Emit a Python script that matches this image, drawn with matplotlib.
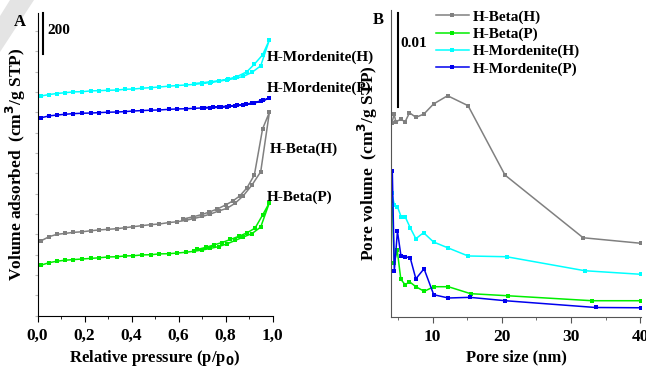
import matplotlib
matplotlib.use("Agg")
import matplotlib.pyplot as plt
from matplotlib.patches import Polygon
from matplotlib.ticker import MultipleLocator, FuncFormatter

plt.rcParams['font.family'] = ['Liberation Serif', 'DejaVu Serif']
plt.rcParams['font.weight'] = 'bold'

# ---- panel A: N2 isotherms (cm3/g STP, stacked) ----
p_ads = [0.016, 0.05, 0.082, 0.118, 0.153, 0.191, 0.228, 0.263, 0.30, 0.337,
         0.373, 0.408, 0.445, 0.482, 0.518, 0.557, 0.592, 0.63, 0.665, 0.70,
         0.735, 0.77, 0.805, 0.84, 0.875, 0.912, 0.949, 0.986]

beta_h_ads = [369, 389, 400, 405, 410, 413, 418, 422, 425, 428, 433, 438, 443, 448,
              451, 458, 462, 469, 478, 488, 500, 515, 528, 553, 590, 643, 708, 1001]
beta_p_ads = [249, 261, 268, 273, 276, 279, 282, 285, 289, 290, 294, 295, 299, 300,
              304, 305, 308, 312, 317, 323, 331, 340, 353, 370, 387, 404, 436, 556]
mord_h_ads = [1081, 1088, 1093, 1097, 1101, 1102, 1106, 1107, 1109, 1110, 1114, 1115,
              1119, 1122, 1125, 1129, 1132, 1135, 1138, 1142, 1147, 1153, 1160, 1167,
              1177, 1197, 1229, 1357]
mord_p_ads = [974, 983, 987, 991, 994, 996, 997, 999, 1001, 1002, 1004, 1007, 1009,
              1011, 1012, 1015, 1017, 1018, 1020, 1022, 1023, 1025, 1028, 1032, 1037,
              1044, 1054, 1070]

beta_h_pdes = [0.957, 0.922, 0.89, 0.86, 0.83, 0.80, 0.765, 0.73, 0.70, 0.66, 0.62]
beta_h_des = [919, 692, 628, 589, 564, 545, 525, 510, 498, 486, 476]
beta_p_pdes = [0.957, 0.925, 0.89, 0.855, 0.82, 0.785, 0.75, 0.715, 0.68]
beta_p_des = [495, 431, 407, 390, 375, 360, 348, 336, 326]
mord_h_pdes = [0.957, 0.922, 0.89, 0.848, 0.808, 0.773, 0.737, 0.70, 0.665]
mord_h_des = [1283, 1237, 1200, 1176, 1163, 1156, 1151, 1146, 1142]
mord_p_pdes = [0.957, 0.92, 0.885, 0.85, 0.815, 0.78, 0.745, 0.71]
mord_p_des = [1059, 1048, 1040, 1035, 1032, 1028, 1026, 1024]

# ---- panel B: pore size distributions (cm3/g STP) ----
bh_size = [4.12, 4.45, 4.70, 5.42, 6.04, 6.67, 7.60, 8.75, 10.14, 12.17, 15.13, 20.46, 31.74, 40.1]
bh_vol = [0.02057, 0.02156, 0.02074, 0.02100, 0.02074, 0.02170, 0.02121, 0.02156,
          0.02263, 0.02351, 0.02245, 0.01507, 0.00840, 0.00781]
bp_size = [4.20, 4.45, 4.90, 5.42, 6.04, 6.67, 7.59, 8.80, 10.17, 12.28, 15.49, 20.83, 33.04, 40.1]
bp_vol = [0.01234, 0.00574, 0.00705, 0.00398, 0.00340, 0.00372, 0.00319, 0.00270,
          0.00319, 0.00319, 0.00245, 0.00223, 0.00170, 0.00170]
mh_size = [4.12, 4.49, 4.93, 5.46, 6.04, 6.77, 7.59, 8.70, 10.14, 12.17, 15.13, 20.68, 31.99, 40.1]
mh_vol = [0.01313, 0.01188, 0.01170, 0.01064, 0.01064, 0.00947, 0.00830, 0.00894,
          0.00795, 0.00734, 0.00646, 0.00638, 0.00489, 0.00451]
mp_size = [4.19, 4.48, 4.93, 5.43, 6.07, 6.77, 7.59, 8.77, 10.17, 12.28, 15.39, 20.51, 33.54, 40.1]
mp_vol = [0.01550, 0.00489, 0.00910, 0.00651, 0.00637, 0.00628, 0.00403, 0.00510,
          0.00234, 0.00199, 0.00206, 0.00170, 0.00098, 0.00095]

names = ['H-Beta(H)', 'H-Beta(P)', 'H-Mordenite(H)', 'H-Mordenite(P)']
colors = ['#808080', '#00ee00', '#00ffff', '#0000ee']

W, H = 646, 369
fig = plt.figure(figsize=(W / 100, H / 100), dpi=100)

# watermark band in the corner
fig.patches.append(Polygon([(10 / W, 1), (34 / W, 1), (0, 1 - 52 / H), (0, 1 - 16 / H)],
                           closed=True, transform=fig.transFigure,
                           facecolor='#e4e4e4', edgecolor='none'))

axA = fig.add_axes([37.5 / W, 1 - 315.7 / H, (272.7 - 37.5) / W, (315.7 - 13) / H])
axB = fig.add_axes([391 / W, 1 - 316.7 / H, (641 - 391) / W, (316.7 - 10) / H])

iso = [(beta_h_ads, beta_h_pdes, beta_h_des),
       (beta_p_ads, beta_p_pdes, beta_p_des),
       (mord_h_ads, mord_h_pdes, mord_h_des),
       (mord_p_ads, mord_p_pdes, mord_p_des)]
for (ads, pdes, des), c in zip(iso, colors):
    axA.plot(p_ads + pdes, ads + des, color=c, lw=1.1, marker='s', ms=3.2,
             markeredgewidth=0, clip_on=False)

axA.set_xlim(0, 1.0)
axA.set_ylim(0, 1489)
for s in ['top', 'right']:
    axA.spines[s].set_visible(False)
axA.xaxis.set_major_locator(MultipleLocator(0.2))
axA.xaxis.set_minor_locator(MultipleLocator(0.1))
axA.xaxis.set_major_formatter(FuncFormatter(lambda v, _: f'{v:.1f}'.replace('.', ',')))
axA.tick_params(axis='x', which='major', direction='out', length=4, labelsize=12.5, pad=5)
axA.tick_params(axis='x', which='minor', direction='out', length=2)
axA.yaxis.set_major_locator(MultipleLocator(100))
axA.tick_params(axis='y', direction='out', length=2, color='#bbbbbb', labelleft=False)
axA.set_xlabel('Relative pressure (p/p$_\\mathbf{0}$)', fontsize=12, fontweight='bold', labelpad=3)
axA.set_ylabel('Volume adsorbed  (cm$^\\mathbf{3}$/g STP)', fontsize=12.5, fontweight='bold', labelpad=5)

# scale bar, panel letter and curve labels
axA.plot([0.023, 0.023], [1288, 1488], color='black', lw=1.5, clip_on=False)
axA.text(0.042, 1405, '200', fontsize=11, fontweight='bold', va='center')
fig.text(20 / W, 1 - 22 / H, 'A', fontsize=12, fontweight='bold', va='center', ha='center')
label_pos = [(0.988, 820), (0.976, 584), (0.976, 1273), (0.976, 1120)]
for (lx, ly), n in zip(label_pos, names):
    axA.text(lx, ly, n, fontsize=11, fontweight='bold', va='center', ha='left', clip_on=False)

# panel B
for x, y, c, n in zip([bh_size, bp_size, mh_size, mp_size], [bh_vol, bp_vol, mh_vol, mp_vol],
                      colors, names):
    axB.plot(x, y, color=c, lw=1.1, marker='s', ms=3.2, markeredgewidth=0, label=n)
axB.set_xlim(4.0, 40.1)
axB.set_ylim(0, 0.03263)
for s in ['top', 'right']:
    axB.spines[s].set_visible(False)
for s in ['left', 'bottom']:
    axB.spines[s].set_color('#555555')
axB.xaxis.set_major_locator(MultipleLocator(10))
axB.xaxis.set_minor_locator(MultipleLocator(5))
axB.tick_params(axis='x', which='major', direction='out', length=4, labelsize=12.5, pad=5, color='#555555')
axB.tick_params(axis='x', which='minor', direction='out', length=2, color='#555555')
axB.tick_params(axis='y', left=False, labelleft=False)
axB.set_xlabel('Pore size (nm)', fontsize=12, fontweight='bold', labelpad=3)
axB.set_ylabel('Pore volume  (cm$^\\mathbf{3}$/g STP)', fontsize=12.5, fontweight='bold', labelpad=8)
axB.plot([5.0, 5.0], [0.02229, 0.03229], color='black', lw=1.5, clip_on=False)
axB.text(5.3, 0.0291, '0.01', fontsize=11, fontweight='bold', va='center')
fig.text(378 / W, 1 - 20 / H, 'B', fontsize=12, fontweight='bold', va='center', ha='center')
axB.legend(loc='upper left', bbox_to_anchor=(436 / W, 1 - 10 / H), bbox_transform=fig.transFigure,
           frameon=False, borderpad=0, borderaxespad=0, handlelength=2.15, handletextpad=0.27,
           labelspacing=0.22, prop={'size': 11, 'weight': 'bold'})

fig.savefig('out.png', dpi=100)
